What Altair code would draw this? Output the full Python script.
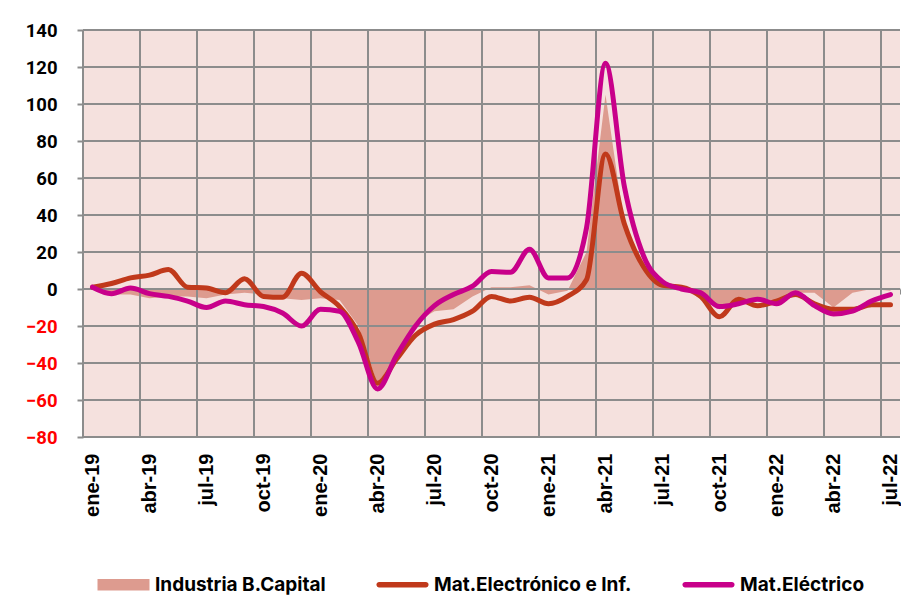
import altair as alt
import pandas as pd

months = [
    "ene-19", "feb-19", "mar-19", "abr-19", "may-19", "jun-19", "jul-19", "ago-19", "sep-19", "oct-19", "nov-19", "dic-19",
    "ene-20", "feb-20", "mar-20", "abr-20", "may-20", "jun-20", "jul-20", "ago-20", "sep-20", "oct-20", "nov-20", "dic-20",
    "ene-21", "feb-21", "mar-21", "abr-21", "may-21", "jun-21", "jul-21", "ago-21", "sep-21", "oct-21", "nov-21", "dic-21",
    "ene-22", "feb-22", "mar-22", "abr-22", "may-22", "jun-22", "jul-22",
]

industria = [0, -3, -3, -5, -4, -4, -5, -3, -2, -3, -5, -6,
             -5, -6, -20, -52, -35, -18, -12, -11, -4, 1, 1, 2,
             -3, -1, 20, 105, 34, 12, 2, 0, -5, -11, -7, -6,
             -6, -2, -2, -10, -2, 0, -1]

electronico = [1, 3, 6, 7.5, 10.5, 1, 0.5, -2, 5.5, -4, -4.5, 8.5,
               -1.5, -9.5, -24, -51, -38, -25, -19, -16.5, -12, -4, -6.5, -4.5,
               -8, -4, 5, 73, 35, 12, 2, 1, -4, -15, -5.5, -9,
               -6.5, -3, -8, -11, -11, -8.5, -8.5]

electrico = [1, -2.5, 0.5, -2.5, -4, -6.5, -10, -6.5, -8.5, -9.5, -13, -20,
             -11, -12, -29, -54, -36, -20, -9, -3, 1.5, 9.5, 9, 21.5,
             6, 6, 33, 122, 55, 18, 4, 0, -2, -9.5, -8, -5.5,
             -8, -2, -9, -13.5, -12, -6.5, -3]

series_names = ["Industria B.Capital", "Mat.Electrónico e Inf.", "Mat.Eléctrico"]
colors = ["#dd9b8f", "#c0391b", "#c8008a"]
y_ticks = [-80, -60, -40, -20, 0, 20, 40, 60, 80, 100, 120, 140]

BG = "#f5e1de"
GRID = "#8c8c8c"
W, H = 817, 407
Y_MIN, Y_MAX = -80, 140

n = len(months)
df = pd.DataFrame({
    "idx": list(range(n)),
    "mes": months,
    "ind": industria,
    "ele": electronico,
    "elc": electrico,
})

xscale = alt.Scale(domain=[-0.5, n - 0.5], nice=False, zero=False)
yscale = alt.Scale(domain=[Y_MIN, Y_MAX], nice=False, zero=False)

label_idx = list(range(0, n, 3))
label_expr = "[" + ",".join("'" + m + "'" for m in months) + "][datum.value]"
quarter_bounds = [i - 0.5 for i in range(0, n, 3)]
month_bounds = [i - 0.5 for i in range(n + 1)]
zero_offset = -(H * (0 - Y_MIN) / (Y_MAX - Y_MIN))

pos_ticks = [v for v in y_ticks if v >= 0]
neg_ticks = [v for v in y_ticks if v < 0]

yaxis_common = dict(
    orient="left", grid=False, domainColor=GRID, domainWidth=2,
    tickColor=GRID, tickWidth=2, tickSize=6, labelFont="Roboto", labelFontSize=18.5,
    labelFontWeight="bold", labelPadding=20, labelOverlap=False, title=None,
)

bg = alt.Chart(pd.DataFrame({"v": [Y_MIN]})).mark_rect(color=BG).encode(
    x=alt.value(0), x2=alt.value(W), y=alt.value(0), y2=alt.value(H),
)

area = alt.Chart(df).mark_area(color=colors[0], interpolate="linear").encode(
    x=alt.X("idx:Q", scale=xscale, axis=alt.Axis(
        orient="bottom", values=label_idx, labelExpr=label_expr, labelAngle=270,
        labelFont="Liberation Sans", labelFontSize=20, labelFontWeight="bold",
        labelColor="black", labelPadding=16, ticks=False, domain=False, grid=False,
        labelOverlap=False, labelFlush=False, title=None)),
    y=alt.Y("ind:Q", scale=yscale, axis=alt.Axis(values=pos_ticks, labelColor="#000000", **yaxis_common)),
    y2=alt.datum(0),
)

vgrid = alt.Chart(pd.DataFrame({"b": quarter_bounds})).mark_rule(color=GRID, strokeWidth=2).encode(
    x=alt.X("b:Q", scale=xscale, axis=alt.Axis(
        orient="bottom", offset=zero_offset, values=month_bounds, labels=False,
        ticks=True, tickSize=5, tickColor=GRID, tickWidth=2, domain=True,
        domainColor=GRID, domainWidth=2, grid=False, title=None)),
)

hgrid = alt.Chart(pd.DataFrame({"v": y_ticks})).mark_rule(color=GRID, strokeWidth=2).encode(
    y=alt.Y("v:Q", scale=yscale, axis=alt.Axis(values=neg_ticks, labelColor="#ff0000", **yaxis_common)),
)

line_ele = alt.Chart(df).mark_line(
    color=colors[1], strokeWidth=5, interpolate="monotone", strokeCap="round", strokeJoin="round"
).encode(
    x=alt.X("idx:Q", scale=xscale, axis=None),
    y=alt.Y("ele:Q", scale=yscale, axis=None),
)

line_elc = alt.Chart(df).mark_line(
    color=colors[2], strokeWidth=5, interpolate="monotone", strokeCap="round", strokeJoin="round"
).encode(
    x=alt.X("idx:Q", scale=xscale, axis=None),
    y=alt.Y("elc:Q", scale=yscale, axis=None),
)

tall = "M-3.714,-0.836L3.714,-0.836L3.714,0.836L-3.714,0.836Z"
thin = "M-3.34,-0.38L3.34,-0.38A0.38,0.38 0 0 1 3.34,0.38L-3.34,0.38A0.38,0.38 0 0 1 -3.34,-0.38Z"

leg_props = dict(
    title=None, orient="none", legendX=14, legendY=545, direction="horizontal",
    symbolSize=196, symbolStrokeWidth=0, symbolOpacity=1, symbolOffset=17,
    labelOffset=22, labelFont="Inter", labelFontSize=19, labelFontWeight="bold",
    labelColor="#000000", columnPadding=50, padding=0, labelLimit=0,
)

leg = alt.Chart(pd.DataFrame({"serie": series_names})).mark_point(filled=True, opacity=0).encode(
    color=alt.Color("serie:N", scale=alt.Scale(domain=series_names, range=colors), legend=alt.Legend(**leg_props)),
    shape=alt.Shape("serie:N", scale=alt.Scale(domain=series_names, range=[tall, thin, thin]), legend=alt.Legend(**leg_props)),
)

chart = alt.layer(bg, area, vgrid, hgrid, line_ele, line_elc, leg).resolve_axis(
    x="independent", y="independent"
).properties(
    width=W, height=H,
    autosize=alt.AutoSizeParams(type="none"),
    padding={"left": 75, "top": 22, "right": 1, "bottom": 160},
    background="white",
).configure_view(fill=BG, stroke=None)

chart.save("out.html", embed_options={"renderer": "svg", "actions": False})
